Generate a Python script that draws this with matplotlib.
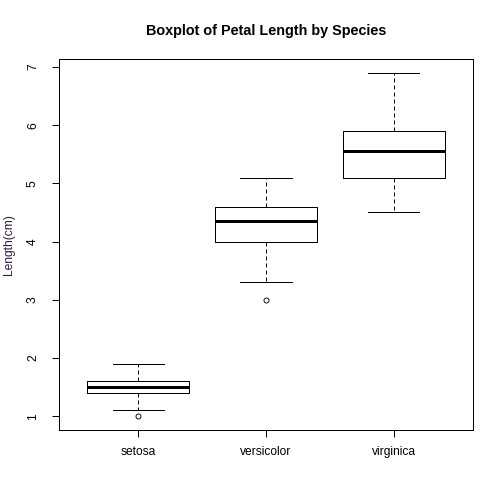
import matplotlib
matplotlib.use('Agg')
import matplotlib.pyplot as plt

# iris petal length, five-number summaries per species (R boxplot style)
species = ['setosa', 'versicolor', 'virginica']
whislo = [1.1, 3.3, 4.5]
q1 = [1.4, 4.0, 5.1]
med = [1.5, 4.35, 5.55]
q3 = [1.6, 4.6, 5.9]
whishi = [1.9, 5.1, 6.9]
outliers = [[1.0], [3.0], []]
yticks = [1, 2, 3, 4, 5, 6, 7]

plt.rcParams['font.family'] = ['Liberation Sans', 'DejaVu Sans']

stats = []
for i in range(len(species)):
    stats.append({'label': species[i], 'whislo': whislo[i], 'q1': q1[i],
                  'med': med[i], 'q3': q3[i], 'whishi': whishi[i],
                  'fliers': outliers[i]})

fig = plt.figure(figsize=(7, 7), dpi=72)
ax = fig.add_axes([59 / 504, 74 / 504, 414 / 504, 371 / 504])

ax.bxp(stats, positions=[1, 2, 3], widths=0.8, patch_artist=False,
       boxprops=dict(color='black', linewidth=1),
       medianprops=dict(color='black', linewidth=3, solid_capstyle='butt'),
       whiskerprops=dict(color='black', linewidth=1, linestyle=(0, (4, 3))),
       capprops=dict(color='black', linewidth=1),
       capwidths=0.4,
       flierprops=dict(marker='o', markerfacecolor='none',
                       markeredgecolor='black', markersize=5,
                       markeredgewidth=0.9))

ax.set_xlim(0.38, 3.62)
ax.set_ylim(0.764, 7.136)
ax.set_yticks(yticks)
ax.set_yticklabels([str(t) for t in yticks], rotation=90, va='center')
ax.tick_params(axis='both', length=7, width=1, labelsize=12, colors='black')
ax.tick_params(axis='x', pad=9)
ax.tick_params(axis='y', pad=13)
for s in ax.spines.values():
    s.set_linewidth(1)

ax.set_ylabel('Length(cm)', fontsize=12, color='#301838', labelpad=12)
fig.text(266 / 504, 1 - 31.5 / 504, 'Boxplot of Petal Length by Species',
         ha='center', va='center', fontsize=14.4, fontweight='bold')

plt.savefig('out.png', dpi=72)
